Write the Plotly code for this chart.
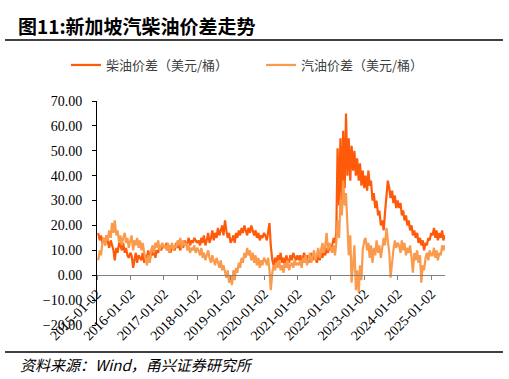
import pandas as pd
import plotly.graph_objects as go

# Semi-monthly readings (USD/bbl), 2015-01 .. 2025-05
diesel_2015 = [17, 14, 16, 13, 15, 12, 16, 13, 11, 14, 12, 10, 6, 11, 9, 13, 12, 10, 13, 9, 11, 8, 7, 9]
diesel_2016 = [8, 3, 6, 9, 5, 8, 7, 6, 9, 5, 8, 7, 10, 6, 9, 8, 11, 7, 10, 9, 12, 10, 11, 12]
diesel_2017 = [11, 13, 10, 12, 9, 12, 11, 10, 13, 11, 12, 10, 13, 11, 14, 12, 13, 15, 12, 14, 13, 15, 14, 13]
diesel_2018 = [14, 12, 15, 13, 16, 12, 14, 17, 13, 15, 18, 14, 17, 15, 19, 16, 18, 20, 16, 22, 18, 15, 17, 13]
diesel_2019 = [14, 16, 13, 17, 15, 18, 16, 19, 17, 20, 18, 16, 19, 17, 20, 18, 16, 18, 15, 17, 14, 16, 15, 17]
diesel_2020 = [16, 14, 17, 21, 12, 6, 4, 7, 5, 8, 6, 9, 5, 7, 4, 8, 6, 5, 8, 6, 9, 7, 6, 8]
diesel_2021 = [6, 8, 5, 7, 9, 6, 8, 5, 7, 9, 6, 8, 7, 5, 8, 6, 9, 7, 10, 8, 11, 9, 12, 10]
diesel_2022 = [12, 15, 13, 17, 51, 28, 55, 30, 58, 35, 65, 40, 55, 38, 52, 42, 50, 40, 47, 38, 45, 36, 42, 35]
diesel_2023 = [40, 34, 42, 36, 38, 30, 33, 27, 30, 24, 26, 20, 22, 18, 25, 32, 38, 35, 31, 34, 29, 32, 27, 30]
diesel_2024 = [27, 29, 24, 26, 22, 24, 20, 22, 18, 20, 16, 18, 15, 17, 13, 15, 12, 14, 10, 13, 12, 15, 14, 17]
diesel_2025 = [16, 19, 15, 18, 14, 17, 15, 18, 14, 16]

gasoline_2015 = [6, 10, 8, 13, 15, 12, 16, 14, 18, 15, 21, 17, 22, 16, 18, 13, 16, 12, 15, 17, 13, 15, 11, 14]
gasoline_2016 = [16, 10, 14, 12, 15, 11, 14, 10, 13, 9, 7, 4, 8, 5, 10, 12, 9, 13, 11, 14, 10, 12, 13, 11]
gasoline_2017 = [12, 10, 13, 9, 11, 13, 10, 12, 11, 14, 12, 15, 11, 14, 12, 13, 10, 12, 9, 11, 10, 12, 9, 11]
gasoline_2018 = [10, 8, 11, 7, 9, 6, 8, 10, 7, 5, 8, 6, 4, 7, 5, 3, 6, 2, 4, 1, -1, 2, -3, 0]
gasoline_2019 = [-4, 2, -2, 3, 1, 5, 3, 7, 5, 9, 7, 11, 8, 10, 6, 9, 5, 8, 4, 7, 3, 6, 4, 7]
gasoline_2020 = [6, 4, 7, 2, -6, 1, 4, 2, 5, 3, 6, 2, 4, 1, 5, 3, 6, 2, 4, 5, 3, 6, 4, 5]
gasoline_2021 = [4, 6, 3, 7, 5, 8, 4, 6, 9, 5, 7, 10, 6, 8, 11, 7, 10, 13, 9, 12, 17, 10, 13, 11]
gasoline_2022 = [9, 12, 8, 13, 22, 15, 30, 24, 38, 28, 33, 20, 8, 16, -3, 5, 12, -6, 2, -7, 4, -2, 10, 14]
gasoline_2023 = [15, 10, 13, 7, 12, 5, 11, 8, 14, 9, 12, 7, 10, 15, 12, 19, 14, 9, -1, 6, 10, 14, 11, 13]
gasoline_2024 = [12, 9, 14, 10, 13, 8, 11, 9, 12, 7, 1, 9, 6, 10, 5, 8, -3, 4, 2, 7, 9, 6, 10, 8]
gasoline_2025 = [8, 11, 7, 10, 6, 9, 8, 12, 10, 12]

diesel = (diesel_2015 + diesel_2016 + diesel_2017 + diesel_2018 + diesel_2019 + diesel_2020
          + diesel_2021 + diesel_2022 + diesel_2023 + diesel_2024 + diesel_2025)
gasoline = (gasoline_2015 + gasoline_2016 + gasoline_2017 + gasoline_2018 + gasoline_2019 + gasoline_2020
            + gasoline_2021 + gasoline_2022 + gasoline_2023 + gasoline_2024 + gasoline_2025)
dates = pd.date_range("2015-01-02", periods=len(diesel), freq="SMS")

tick_labels = ["2015-01-02", "2016-01-02", "2017-01-02", "2018-01-02", "2019-01-02", "2020-01-02",
               "2021-01-02", "2022-01-02", "2023-01-02", "2024-01-02", "2025-01-02"]
y_ticks = [-20, -10, 0, 10, 20, 30, 40, 50, 60, 70]

series_names = ["柴油价差（美元/桶）", "汽油价差（美元/桶）"]
colors = ["#FF5A0A", "#F99A4D"]

CJK = "Noto Sans CJK SC"
SERIF = "Liberation Serif"

fig = go.Figure()
fig.add_trace(go.Scatter(x=dates, y=diesel, mode="lines", name=series_names[0],
                         line=dict(color=colors[0], width=2.2)))
fig.add_trace(go.Scatter(x=dates, y=gasoline, mode="lines", name=series_names[1],
                         line=dict(color=colors[1], width=2.2)))

fig.update_layout(
    width=509, height=379,
    margin=dict(l=97, r=64, t=101, b=54, autoexpand=False),
    plot_bgcolor="white", paper_bgcolor="white",
    showlegend=True,
    legend=dict(orientation="h", xref="paper", x=(66-97)/348, xanchor="left",
                yref="paper", y=1 + 36/224, yanchor="middle",
                font=dict(family=CJK, size=13, color="#404040"),
                bgcolor="rgba(0,0,0,0)", tracegroupgap=0, entrywidth=150),
    title=dict(text="<b>图11:新加坡汽柴油价差走势</b>", xref="container", x=18/509, xanchor="left",
               yref="container", y=1 - 27/379, yanchor="middle",
               font=dict(family=CJK, size=19, color="black")),
    xaxis=dict(
        range=["2015-01-02", "2025-06-01"],
        tickmode="array", tickvals=tick_labels, ticktext=tick_labels,
        tickangle=-45, ticks="outside", ticklen=4, tickcolor="#808080",
        showline=True, linecolor="#808080", linewidth=1.3,
        showgrid=False, zeroline=False, automargin=False,
        anchor="free", position=20/90,
        tickfont=dict(family=SERIF, size=14, color="black"),
    ),
    yaxis=dict(
        range=[-20, 70], tickvals=y_ticks, tickformat=".2f",
        ticks="outside", ticklen=4, tickcolor="black", ticklabelstandoff=7,
        showline=True, linecolor="black", linewidth=1,
        showgrid=False, zeroline=False, automargin=False,
        tickfont=dict(family=SERIF, size=14, color="black"),
    ),
    shapes=[
        dict(type="line", xref="paper", yref="paper", x0=(5-97)/348, x1=(503-97)/348,
             y0=(325-40)/224, y1=(325-40)/224, line=dict(color="black", width=1.5)),
        dict(type="line", xref="paper", yref="paper", x0=(5-97)/348, x1=(503-97)/348,
             y0=(325-352)/224, y1=(325-352)/224, line=dict(color="black", width=1.5)),
    ],
    annotations=[
        dict(text="<i>资料来源：Wind，甬兴证券研究所</i>", xref="paper", yref="paper",
             x=(18-97)/348, xanchor="left", y=(325-364)/224, yanchor="middle",
             showarrow=False, font=dict(family=CJK, size=15, color="black")),
    ],
)

fig.write_html("out.html", config={"displayModeBar": False},
               post_script="document.body.style.margin='0px';")
